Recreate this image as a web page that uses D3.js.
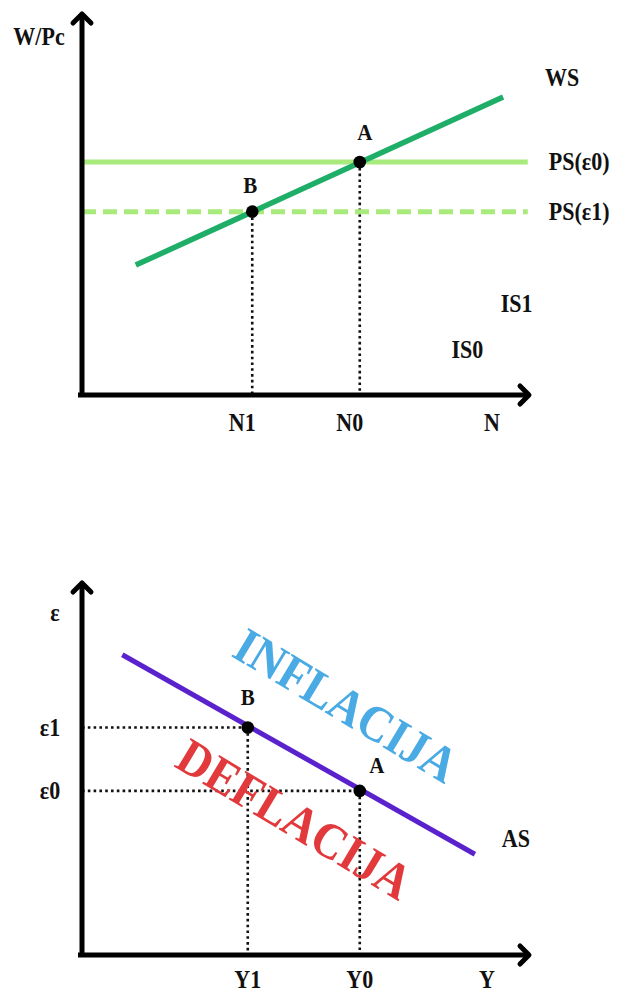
<!DOCTYPE html>
<html>
<head>
<meta charset="utf-8">
<script src="https://cdn.jsdelivr.net/npm/d3@7"></script>
<style>
  html, body { margin: 0; padding: 0; background: #fff; }
  svg { display: block; }
  text { font-family: "Liberation Serif", "Times New Roman", Tinos, serif; font-weight: bold; }
</style>
</head>
<body>
<script>
// ---------- DATA (top panel: labour market) ----------
const nTickLabels = ["N1", "N0"];
const nTickValues = [3.8, 6.2];
const psLabels = ["PS(ε0)", "PS(ε1)"];
const psLevels = [6.1, 4.8];
const wsLineN = [1.2, 9.4];
const wsLineW = [3.4, 7.8];
const topPointLabels = ["A", "B"];
const topPointN = [6.2, 3.8];
const topPointW = [6.1, 4.8];
const isLabels = ["IS1", "IS0"];
const isAnchorN = [9.7, 8.6];
const isAnchorW = [2.4, 1.2];

// ---------- DATA (bottom panel: AS curve) ----------
const yTickLabels = ["Y1", "Y0"];
const yTickValues = [3.7, 6.2];
const epsTickLabels = ["ε1", "ε0"];
const epsTickValues = [6.1, 4.4];
const asLineY = [0.9, 8.77];
const asLineE = [8.05, 2.7];
const botPointLabels = ["B", "A"];
const botPointY = [3.7, 6.2];
const botPointE = [6.1, 4.4];
const regionLabels = ["INFLACIJA", "DEFLACIJA"];
const regionAnchorY = [5.9, 4.75];
const regionAnchorE = [6.7, 3.65];

const W = 622, H = 994;
const svg = d3.select("body").append("svg").attr("width", W).attr("height", H);
svg.append("rect").attr("width", W).attr("height", H).attr("fill", "#fff");

const x = d3.scaleLinear().domain([0, 10]).range([82, 530]);
const yTop = d3.scaleLinear().domain([0, 10]).range([395, 13]);
const yBot = d3.scaleLinear().domain([0, 10]).range([955, 582]);

const AX_W = 5;
function drawAxes(ys) {
  const g = svg.append("g");
  const x0 = x(0), y0 = ys(0), xEnd = x(10), yEnd = ys(10);
  g.append("line").attr("x1", x0).attr("y1", y0 + 2).attr("x2", x0).attr("y2", yEnd + 2)
    .attr("stroke", "#000").attr("stroke-width", AX_W);
  g.append("path").attr("d", `M${x0 - 9},${yEnd + 10} L${x0},${yEnd + 1} L${x0 + 9},${yEnd + 10}`)
    .attr("fill", "none").attr("stroke", "#000").attr("stroke-width", AX_W)
    .attr("stroke-linecap", "round").attr("stroke-linejoin", "round");
  g.append("line").attr("x1", x0 - 4).attr("y1", y0).attr("x2", xEnd - 2).attr("y2", y0)
    .attr("stroke", "#000").attr("stroke-width", AX_W);
  g.append("path").attr("d", `M${xEnd - 10},${y0 - 9} L${xEnd - 1},${y0} L${xEnd - 10},${y0 + 9}`)
    .attr("fill", "none").attr("stroke", "#000").attr("stroke-width", AX_W)
    .attr("stroke-linecap", "round").attr("stroke-linejoin", "round");
}

// labels in the reference are slightly taller than they are wide
const STRETCH = 1.14;
function label(txt, px, py, opts = {}) {
  return svg.append("text")
    .attr("transform", `translate(${px},${py}) scale(1,${STRETCH})`)
    .attr("text-anchor", opts.anchor || "middle")
    .attr("dominant-baseline", "central")
    .attr("font-size", opts.size || 22)
    .attr("fill", opts.color || "#111")
    .text(txt);
}

const dotted = { stroke: "#111", w: 2.6, dash: "2.6,3.2" };

// ================= TOP PANEL =================
topPointN.forEach((n, i) => {
  svg.append("line").attr("x1", x(n)).attr("x2", x(n))
    .attr("y1", yTop(topPointW[i])).attr("y2", yTop(0))
    .attr("stroke", dotted.stroke).attr("stroke-width", dotted.w).attr("stroke-dasharray", dotted.dash);
});
psLevels.forEach((lv, i) => {
  svg.append("line").attr("x1", x(0)).attr("x2", x(9.95))
    .attr("y1", yTop(lv)).attr("y2", yTop(lv))
    .attr("stroke", "#a9ea7c").attr("stroke-width", 5)
    .attr("stroke-dasharray", i === 1 ? "14,7" : null);
  label(psLabels[i], x(9.95) + 21, yTop(lv), { anchor: "start" });
});
svg.append("path")
  .attr("d", d3.line().x(d => x(d[0])).y(d => yTop(d[1]))(wsLineN.map((n, i) => [n, wsLineW[i]])))
  .attr("stroke", "#1fae68").attr("stroke-width", 5.5).attr("fill", "none");
label("WS", x(wsLineN[1]) + 59, yTop(wsLineW[1]) - 20);

drawAxes(yTop);

topPointN.forEach((n, i) => {
  svg.append("circle").attr("cx", x(n)).attr("cy", yTop(topPointW[i])).attr("r", 6.3).attr("fill", "#000");
});
label(topPointLabels[0], x(topPointN[0]) + 5, yTop(topPointW[0]) - 30, { size: 21 });
label(topPointLabels[1], x(topPointN[1]) - 2, yTop(topPointW[1]) - 27, { size: 21 });

nTickValues.forEach((v, i) => label(nTickLabels[i], x(v) - 10, yTop(0) + 27));
label("N", 492, yTop(0) + 27);
label("W/Pc", 39, 36);
isLabels.forEach((t, i) => label(t, x(isAnchorN[i]), yTop(isAnchorW[i])));

// ================= BOTTOM PANEL =================
botPointY.forEach((v, i) => {
  svg.append("line").attr("x1", x(0)).attr("x2", x(v))
    .attr("y1", yBot(botPointE[i])).attr("y2", yBot(botPointE[i]))
    .attr("stroke", dotted.stroke).attr("stroke-width", dotted.w).attr("stroke-dasharray", dotted.dash);
  svg.append("line").attr("x1", x(v)).attr("x2", x(v))
    .attr("y1", yBot(botPointE[i])).attr("y2", yBot(0))
    .attr("stroke", dotted.stroke).attr("stroke-width", dotted.w).attr("stroke-dasharray", dotted.dash);
});

const regionColors = ["#4aaae4", "#e23a3c"];
regionLabels.forEach((t, i) => {
  const px = x(regionAnchorY[i]), py = yBot(regionAnchorE[i]);
  svg.append("text").attr("transform", `translate(${px},${py}) rotate(31) scale(1,1.1)`)
    .attr("text-anchor", "middle").attr("dominant-baseline", "central")
    .attr("font-size", 46).attr("fill", regionColors[i]).text(t);
});

svg.append("path")
  .attr("d", d3.line().x(d => x(d[0])).y(d => yBot(d[1]))(asLineY.map((v, i) => [v, asLineE[i]])))
  .attr("stroke", "#5a22cc").attr("stroke-width", 5).attr("fill", "none");
label("AS", x(asLineY[1]) + 41, yBot(asLineE[1]) - 16);

drawAxes(yBot);

botPointY.forEach((v, i) => {
  svg.append("circle").attr("cx", x(v)).attr("cy", yBot(botPointE[i])).attr("r", 6.3).attr("fill", "#000");
});
label(botPointLabels[0], x(botPointY[0]), yBot(botPointE[0]) - 30, { size: 21 });
label(botPointLabels[1], x(botPointY[1]) + 17, yBot(botPointE[1]) - 26, { size: 21 });

yTickValues.forEach((v, i) => label(yTickLabels[i], x(v), yBot(0) + 24));
label("Y", 487, yBot(0) + 24);
epsTickValues.forEach((v, i) => label(epsTickLabels[i], 50, yBot(v)));
label("ε", 55, 612);
</script>
</body>
</html>
